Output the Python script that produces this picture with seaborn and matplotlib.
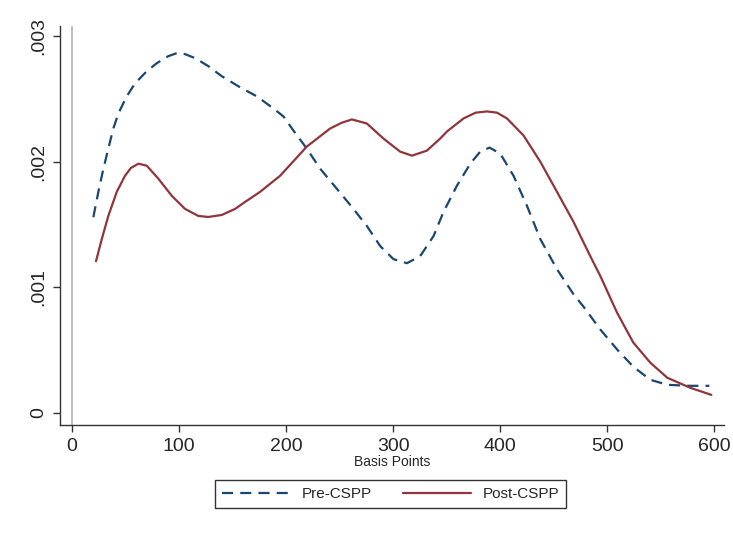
"""
plot.py
Kernel density of spreads (basis points), pre vs post CSPP.
"""

import pandas as pd
import matplotlib
matplotlib.use("Agg")
import matplotlib.pyplot as plt
import seaborn as sns

# values
pre_bp = [19.9, 24.6, 29.3, 33.9, 38.6, 43.3, 51.1, 58.9, 69.8, 79.2, 90.0,
          97.9, 105.6, 115, 127.4, 139.9, 157, 172.6, 188.1, 197.5, 206.8,
          219.3, 231.8, 247.4, 262.9, 275.4, 287.9, 300.3, 312.8, 325.2, 337.7,
          347, 359.5, 372, 381.3, 390, 400, 412.4, 425, 437.4, 453, 468.5,
          477.6, 493.5, 509.3, 524.3, 540.2, 556.1, 577.6, 595.3]
pre_dens = [.001558, .00176, .001944, .002104, .002264, .002384, .00252,
            .002624, .00272, .002784, .00284, .002864, .002856, .002824,
            .00276, .00268, .002592, .00252, .002424, .00236, .002248,
            .002104, .001944, .001784, .001624, .001488, .001328, .001224,
            .001192, .001248, .001408, .0016, .001808, .001984, .00208,
            .002112, .002064, .001888, .001648, .001384, .001144, .000944,
            .000848, .000664, .000504, .000368, .000264, .000224, .000216,
            .000216]

post_bp = [22.4, 27.8, 33.9, 41.8, 49.5, 55, 62, 69.8, 80.7, 93.2, 105.6, 118,
           127.4, 139.9, 152.3, 161.7, 175.7, 194.4, 219.3, 241.1, 252, 261.4,
           275.4, 290.9, 306.5, 317.5, 331.5, 343.9, 350.2, 365.7, 377, 387.6,
           397, 406.3, 421.8, 437.4, 453, 468.5, 484.1, 493.5, 509, 524.3,
           540.2, 556.1, 577.6, 597.2]
post_dens = [.001208, .001384, .001568, .00176, .001888, .00195, .001984,
             .001968, .001864, .001728, .001624, .001568, .00156, .001576,
             .001624, .00168, .00176, .001888, .00212, .002264, .00231,
             .002336, .002304, .002184, .00208, .002048, .002088, .002184,
             .00224, .002344, .00239, .0024, .00239, .002344, .002208, .002,
             .00176, .00152, .001248, .00109, .0008, .00056, .0004, .00028,
             .0002, .000144]

series_names = ["Pre-CSPP", "Post-CSPP"]
x_ticks = [0, 100, 200, 300, 400, 500, 600]
y_ticks = [0, .001, .002, .003]
y_tick_labels = ["0", ".001", ".002", ".003"]

df = pd.concat([
    pd.DataFrame({"bp": pre_bp, "density": pre_dens, "group": series_names[0]}),
    pd.DataFrame({"bp": post_bp, "density": post_dens, "group": series_names[1]}),
])

sns.set_style("white")
plt.rcParams["font.family"] = ["Liberation Sans", "DejaVu Sans"]

fig = plt.figure(figsize=(7.33, 5.38), dpi=100)
ax = fig.add_axes([0.0819, 0.21, 0.9058, 0.7417])

ax.axvline(0, color="#b4b4b4", lw=1.2, zorder=0)

palette = {"Pre-CSPP": "#1a476f", "Post-CSPP": "#90353b"}
for name in series_names:
    sub = df[df["group"] == name]
    sns.lineplot(data=sub, x="bp", y="density", ax=ax, color=palette[name],
                 lw=1.6, label=name, sort=False,
                 solid_joinstyle="round", dash_joinstyle="round",
                 linestyle=(0, (5, 3.2)) if name == "Pre-CSPP" else "-")

ax.set_xlim(-11.2, 609)
ax.set_ylim(-0.000096, 0.00308)
ax.set_xticks(x_ticks)
ax.set_yticks(y_ticks)
ax.set_yticklabels(y_tick_labels, rotation=90, va="center")
ax.tick_params(axis="both", direction="out", length=5, width=1, color="#333333",
               labelsize=14, pad=4, left=True, bottom=True)
ax.set_xlabel("Basis Points", fontsize=10, labelpad=0)
ax.set_ylabel("")

for side in ["top", "right"]:
    ax.spines[side].set_visible(False)
for side in ["left", "bottom"]:
    ax.spines[side].set_color("#333333")
    ax.spines[side].set_linewidth(1)

ax.get_legend().remove()
handles, labels = ax.get_legend_handles_labels()
leg = fig.legend(handles, labels, loc="center", bbox_to_anchor=(0.533, 0.082),
                 ncol=2, frameon=True, fancybox=False, fontsize=11,
                 handlelength=4.4, columnspacing=2.1, borderpad=0.45,
                 handletextpad=0.8, borderaxespad=0)
leg.get_frame().set_edgecolor("black")
leg.get_frame().set_linewidth(1)

fig.savefig("out.png", dpi=100)
